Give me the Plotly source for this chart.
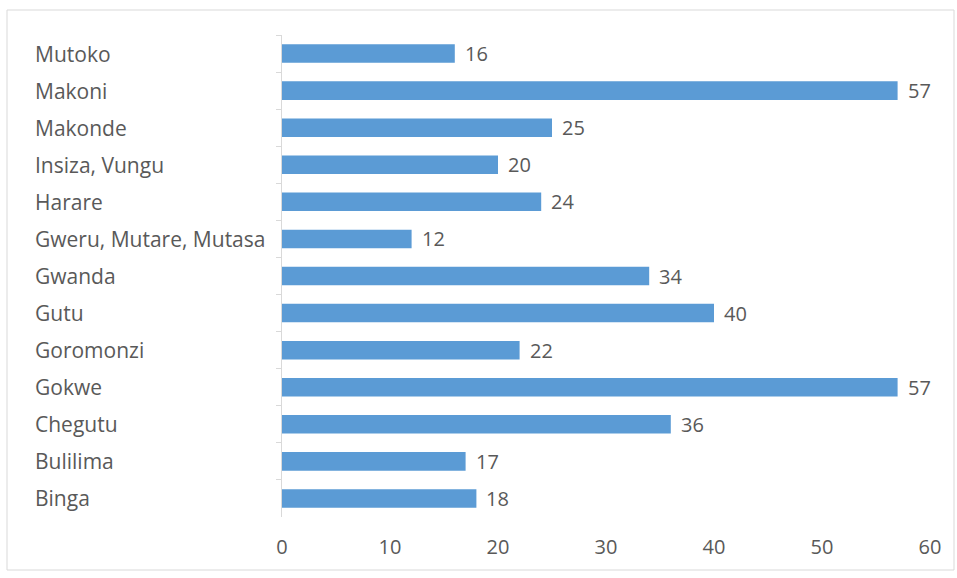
import plotly.graph_objects as go

# Districts listed top to bottom, with their counts
districts = ["Mutoko", "Makoni", "Makonde", "Insiza, Vungu", "Harare",
             "Gweru, Mutare, Mutasa", "Gwanda", "Gutu", "Goromonzi",
             "Gokwe", "Chegutu", "Bulilima", "Binga"]
counts = [16, 57, 25, 20, 24, 12, 34, 40, 22, 57, 36, 17, 18]
x_ticks = [0, 10, 20, 30, 40, 50, 60]

W, H = 957, 578
L, R, T, B = 282, 27, 35, 61
pw, ph = W - L - R, H - T - B

FONT = "Open Sans"
GREY = "#595959"
FSIZE = 20

fig = go.Figure(go.Bar(
    x=counts, y=districts, orientation="h",
    marker=dict(color="#5B9BD5", line=dict(width=0)),
    hoverinfo="skip",
))

# value labels just past the end of each bar
for d, c in zip(districts, counts):
    fig.add_annotation(x=c, xref="x", y=d, yref="y", text=str(c),
                       showarrow=False, xanchor="left", xshift=8,
                       font=dict(family=FONT, size=FSIZE, color=GREY))

# left-aligned category labels
for d in districts:
    fig.add_annotation(x=(35 - L) / pw, xref="paper", y=d, yref="y",
                       text=d, showarrow=False, xanchor="left", xshift=-2,
                       font=dict(family=FONT, size=21, color=GREY))

# thin frame around the whole chart
fig.add_shape(type="rect", xref="paper", yref="paper",
              x0=(7 - L) / pw, x1=(954 - L) / pw,
              y0=(H - B - 570) / ph, y1=(H - B - 10) / ph,
              line=dict(color="#D9D9D9", width=1))

fig.update_layout(
    width=W, height=H, margin=dict(l=L, r=R, t=T, b=B),
    paper_bgcolor="white", plot_bgcolor="white",
    bargap=0.5, showlegend=False,
    xaxis=dict(range=[0, 60], tickvals=x_ticks, showgrid=False,
               zeroline=False, showline=False, ticks="",
               ticklabelstandoff=16,
               tickfont=dict(family=FONT, size=FSIZE, color=GREY)),
    yaxis=dict(autorange="reversed", showticklabels=False, showgrid=False,
               zeroline=False, showline=True, linecolor="#D9D9D9",
               linewidth=1, ticks="outside", ticklen=5,
               tickcolor="#D9D9D9", tickson="boundaries"),
)

fig.write_html("out.html")
